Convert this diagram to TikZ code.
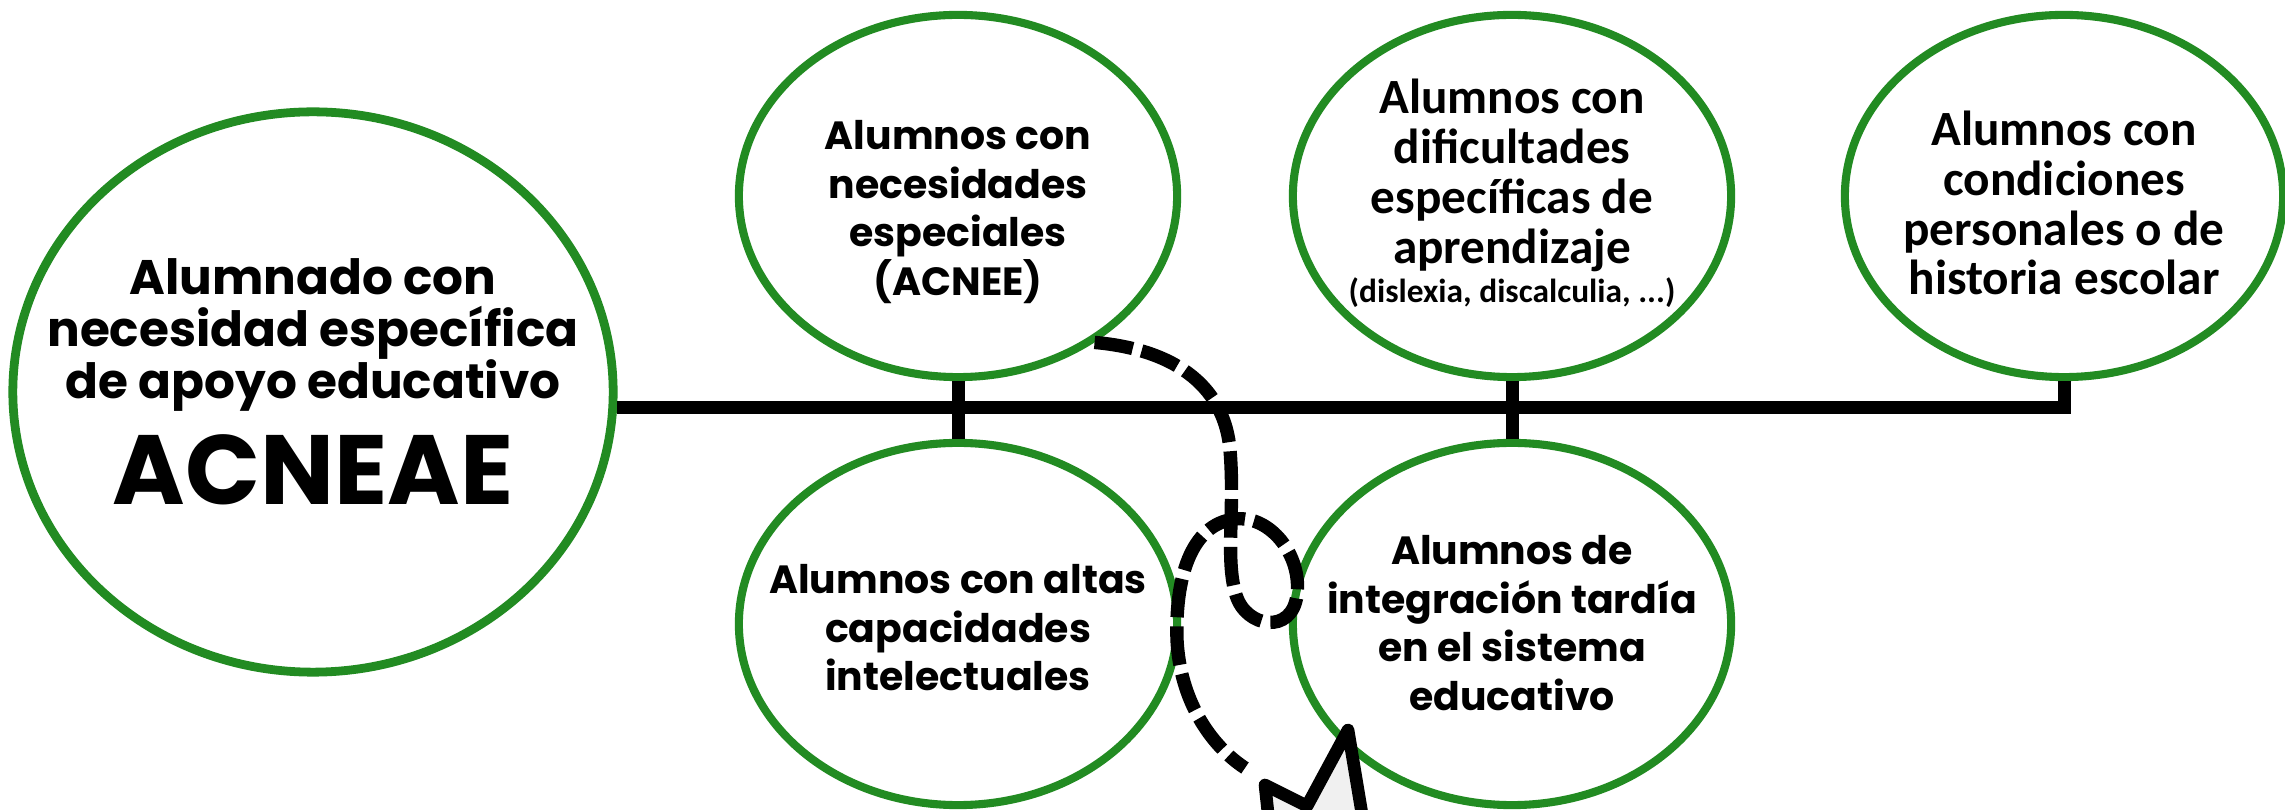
\documentclass[tikz,border=0pt]{standalone}
\usepackage{fontspec}
\setmainfont{Poppins}
\newfontfamily\calfont{Carlito}
\usetikzlibrary{shapes.geometric}
\definecolor{cgreen}{RGB}{34,139,34}
\definecolor{arrowfill}{RGB}{240,240,240}
\begin{document}
\begin{tikzpicture}[x=0.01cm,y=-0.01cm,
  bub/.style={ellipse, draw=cgreen, fill=white, line width=2.3pt, minimum width=4.38cm, minimum height=3.62cm, inner sep=0pt},
  bigbub/.style={ellipse, draw=cgreen, fill=white, line width=2.5pt, minimum width=6.0cm, minimum height=5.6cm, inner sep=0pt},
  mtxt/.style={align=center, inner sep=0pt, font=\bfseries\fontsize{11.2}{13.8}\selectfont},
  ctxt/.style={align=center, inner sep=0pt, font=\calfont\bfseries\fontsize{14}{14.2}\selectfont},
  bar/.style={line width=3.7pt, draw=black},
  dashcurve/.style={line width=3.8pt, dash pattern=on 11pt off 2.6pt},
]
\useasboundingbox (0,0) rectangle (2285,810);
\clip (0,0) rectangle (2285,810);
\fill[white] (0,0) rectangle (2285,810);

% bubbles
\node[bigbub] (big) at (313,392) {};
\node[bub] (acnee) at (958,196) {};
\node[bub] (dif) at (1512,196) {};
\node[bub] (cond) at (2064,196) {};
\node[bub] (altas) at (958,624) {};
\node[bub] (integ) at (1512,624) {};

% connectors
\coordinate (lineR) at (cond.south |- big.-3.5);
\draw[bar] (big.-3.5) -- (lineR) -- (cond.south);
\draw[bar] (acnee.south) -- (altas.north);
\draw[bar] (dif.south) -- (integ.north);

% texts
\node[mtxt, font=\bfseries\fontsize{13.8}{14.9}\selectfont] (bigtxt) at (313,335) {Alumnado con\\necesidad específica\\de apoyo educativo};
\node[inner sep=0pt, font=\bfseries\fontsize{28}{30}\selectfont] (acneae) at (313,470) {ACNEAE};
\node[mtxt] (acneetxt) at (958,212) {Alumnos con\\necesidades\\especiales\\(ACNEE)};
\node[mtxt] (altastxt) at (958,628) {Alumnos con altas\\capacidades\\intelectuales};
\node[mtxt] (integtxt) at (1512,623) {Alumnos de\\integración tardía\\en el sistema\\educativo};
\node[ctxt, anchor=north] (diftxt) at (1512,78) {Alumnos con\\dificultades\\específicas de\\aprendizaje\\[-3pt]{\fontsize{9.5}{10}\selectfont (dislexia, discalculia, ...)}};
\node[ctxt] (condtxt) at (2064,203) {Alumnos con\\condiciones\\personales o de\\historia escolar};

% dashed loop curve
\coordinate (dEnd) at (1245,768);
\draw[dashcurve] (acnee.-47) .. controls (1180,350) and (1225,390) .. (1230,450)
  .. controls (1235,510) and (1225,560) .. (1236,595)
  .. controls (1246,628) and (1292,635) .. (1297,595)
  .. controls (1302,555) and (1270,515) .. (1235,519)
  .. controls (1190,524) and (1175,580) .. (1177,640)
  .. controls (1180,700) and (1210,745) .. (dEnd);

% partial star/arrow shape at bottom
\coordinate (sA) at (1272,850);
\coordinate (sB) at (1265,785);
\coordinate (sC) at (1307,806);
\coordinate (sD) at (1348,730);
\coordinate (sE) at (1368,850);
\draw[line width=3.6pt, fill=arrowfill, line join=round] (sA) -- (sB) -- (sC) -- (sD) -- (sE);
\end{tikzpicture}
\end{document}
